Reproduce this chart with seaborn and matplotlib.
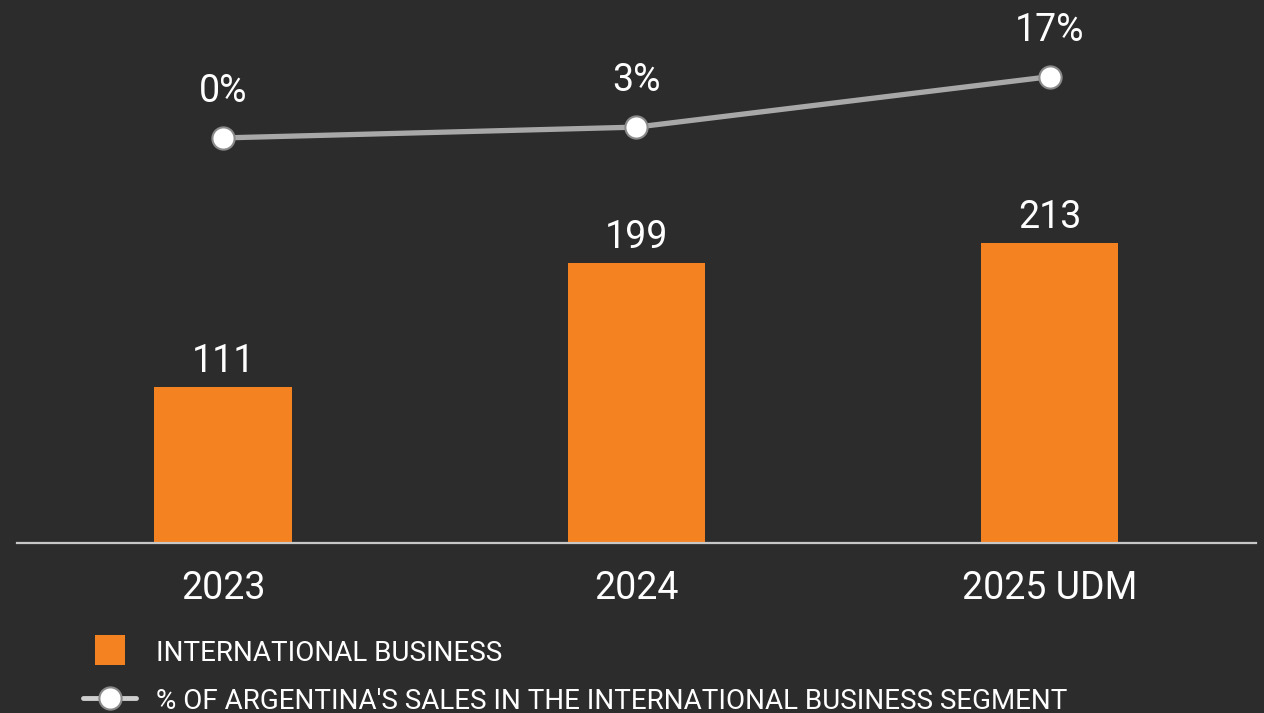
import seaborn as sns
import matplotlib.pyplot as plt
import pandas as pd
from matplotlib.lines import Line2D

# data
years = ["2023", "2024", "2025 UDM"]
intl_business = [111, 199, 213]
arg_share = [0, 3, 17]  # % of Argentina's sales in the international segment

legend_labels = ["INTERNATIONAL BUSINESS",
                 "% OF ARGENTINA'S SALES IN THE INTERNATIONAL BUSINESS SEGMENT"]

BG = "#2c2c2c"
ORANGE = "#f58220"
GREY = "#a8a8a8"
WHITE = "#ffffff"

sns.set_theme(style="white")
plt.rcParams["font.family"] = ["Roboto", "DejaVu Sans"]

df = pd.DataFrame({"year": years, "value": intl_business, "share": arg_share,
                   "pos": range(len(years))})

fig = plt.figure(figsize=(12.64, 7.13), dpi=100, facecolor=BG)
ax = fig.add_axes([0.0134, 0.2384, 0.9803, 0.7616])
ax.set_facecolor(BG)

# bars
sns.barplot(data=df, x="year", y="value", color=ORANGE, saturation=1,
            width=0.334, linewidth=0, ax=ax)
ax.set_xlim(-0.5, 2.5)
ax.set_ylim(0, 386)
for i, v in enumerate(intl_business):
    ax.text(i, v + 10.7, f"{v}", ha="center", va="baseline", color=WHITE, fontsize=27)

ax.set_xlabel("")
ax.set_ylabel("")
ax.set_yticks([])
ax.tick_params(axis="x", length=0, pad=19.5, labelsize=27, colors=WHITE)
for s in ["top", "right", "left"]:
    ax.spines[s].set_visible(False)
ax.spines["bottom"].set_color("#c8c8c8")
ax.spines["bottom"].set_linewidth(1.6)

# line on a second scale
ax2 = ax.twinx()
sns.lineplot(data=df, x="pos", y="share", color=GREY, linewidth=3.8,
             marker="o", markersize=16, markerfacecolor=WHITE,
             markeredgecolor="#8a8a8a", markeredgewidth=1.5, ax=ax2)
ax2.set_ylim(-112.5, 38.3)
ax2.set_xlim(-0.5, 2.5)
for i, v in enumerate(arg_share):
    ax2.text(i, v + 9.9, f"{v}%", ha="center", va="baseline", color=WHITE, fontsize=27)
ax2.set_xlabel("")
ax2.set_ylabel("")
ax2.set_yticks([])
for s in ax2.spines.values():
    s.set_visible(False)

# legend at the bottom
handles = [Line2D([0], [0], linestyle="none", marker="s", markersize=21,
                  markerfacecolor=ORANGE, markeredgewidth=0),
           Line2D([0], [0], color="#cfcfcf", linewidth=3.5, marker="o", markersize=16,
                  markerfacecolor=WHITE, markeredgecolor="#8a8a8a", markeredgewidth=1.5)]
leg = fig.legend(handles, legend_labels, loc="upper left",
                 bbox_to_anchor=(0.066, 0.1037), frameon=False, fontsize=20,
                 labelcolor=WHITE, handlelength=1.9, handleheight=1.0,
                 handletextpad=0.72, labelspacing=0.72, borderaxespad=0,
                 borderpad=0)

fig.savefig("out.png", dpi=100, facecolor=BG)
